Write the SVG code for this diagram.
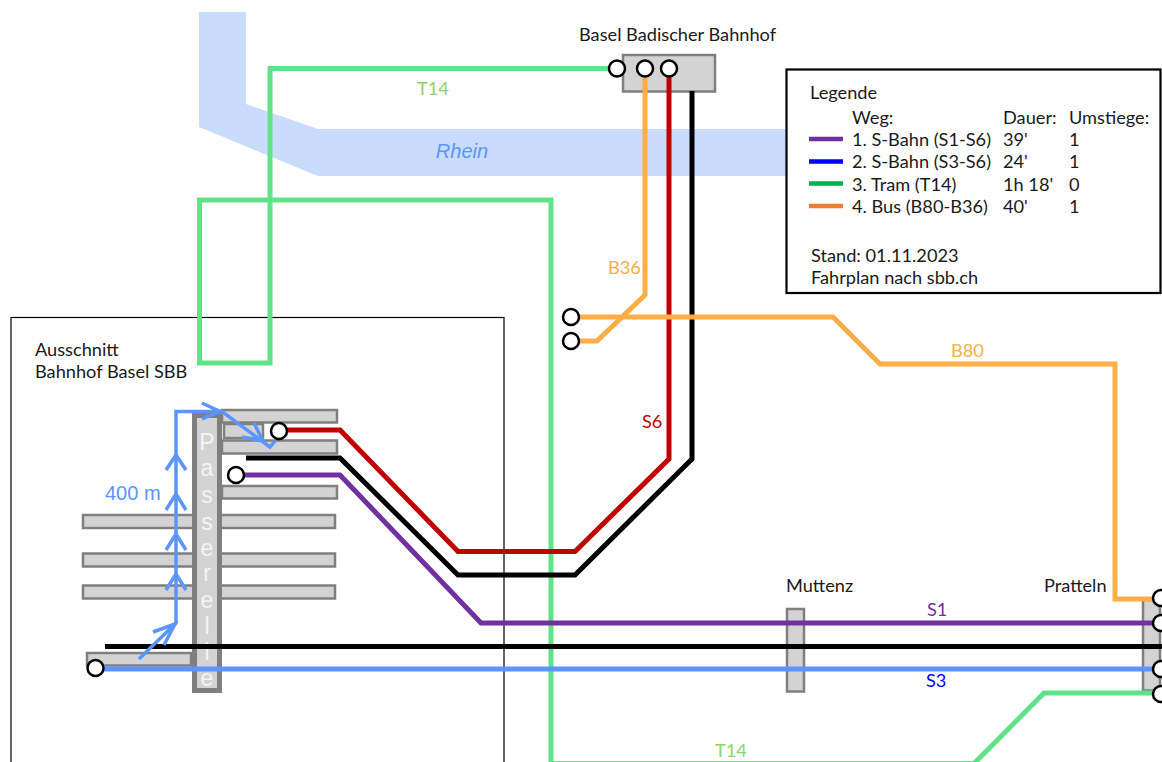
<svg xmlns="http://www.w3.org/2000/svg" width="1162" height="762" viewBox="0 0 1162 762">
<style>
text{font-family:Lato,"Liberation Sans",sans-serif;font-size:18.2px;fill:#1a1a1a}
text.b{font-family:"Liberation Sans",Arial,sans-serif;font-size:20px;fill:#5b95ff}
text.c{font-family:"Liberation Sans",Arial,sans-serif;font-size:23px;fill:#f4f4f4;text-anchor:middle}
.p{fill:#d3d3d3;stroke:#7f7f7f;stroke-width:2.5}
.l{fill:none;stroke-width:5}
.w{fill:none;stroke:#5b95ff;stroke-width:3.5}
.s{fill:#fff;stroke:#000;stroke-width:2.5}
.pur{stroke:#7030a0}.blu{stroke:#5b95ff}.grn{stroke:#60e388}.org{stroke:#ffad47}.red{stroke:#c00000}.blk{stroke:#000}
</style>
<rect width="1162" height="762" fill="#fff"/>
<g id="rhein"><polygon points="199,12 246,12 246,104 318,129 786,129 786,176 318,176 199,127" fill="#c9dcfb"/><text class="b" x="462" y="158" text-anchor="middle" font-style="italic">Rhein</text></g>
<g id="ausschnitt"><rect x="11" y="317.500" width="493" height="460" fill="none" stroke="#000" stroke-width="1.200"/><text x="35" y="356">Ausschnitt</text><text x="35" y="378">Bahnhof Basel SBB</text></g>
<g id="platforms">
<rect class="p" x="83" y="515" width="252" height="13"/><rect class="p" x="83" y="553.500" width="252" height="13"/><rect class="p" x="83" y="585.500" width="252" height="13"/>
<rect class="p" x="87" y="653" width="104" height="12.500"/>
<rect class="p" x="222" y="410" width="115" height="12.500"/><rect class="p" x="224" y="424" width="39" height="14"/><rect class="p" x="222" y="440.500" width="115" height="13"/><rect class="p" x="222" y="486" width="115" height="12.500"/>
</g>
<g id="passerelle"><rect x="194.500" y="415.500" width="25" height="275" fill="#d3d3d3" stroke="#7f7f7f" stroke-width="5"/>
<text class="c" x="207" y="450">P</text><text class="c" x="207" y="476">a</text><text class="c" x="207" y="503">s</text><text class="c" x="207" y="530">s</text><text class="c" x="207" y="556">e</text><text class="c" x="207" y="581">r</text><text class="c" x="207" y="608">e</text><text class="c" x="207" y="634">l</text><text class="c" x="207" y="660">l</text><text class="c" x="207" y="686">e</text>
</g>
<g id="stn-muttenz"><rect class="p" x="787" y="609" width="17" height="82.500"/><text x="786" y="592">Muttenz</text></g>
<g id="stn-pratteln"><rect class="p" x="1143" y="600" width="17" height="90.500"/><text x="1044" y="592">Pratteln</text></g>
<g id="stn-badischer"><rect class="p" x="623" y="55" width="92" height="36.500"/><text x="579" y="41">Basel Badischer Bahnhof</text></g>
<g id="connectors">
<path class="l grn" d="M617 68.500H270V363H199.500V200H551V763.500H974L1044 693H1157"/>
<path class="l org" d="M645 68V295L597 341H571"/>
<path class="l red" d="M669 68V459L575 551.500H458L340 430H279"/>
<path class="l blk" d="M692 91V459L575 575H458L340 458H246"/>
<path class="l org" d="M571 317H833L880 364H1115V599H1158"/>
<path class="l pur" d="M236 475H340L481 623H1158"/>
<path class="l blk" d="M105 646.500H1162"/>
<path class="l blu" d="M95 669H1158"/>
</g>
<g id="walk">
<path class="w" d="M139 659L176 623V411.500H222L270 447L275 441"/>
<path class="w" d="M153 632L175 624L164 645M166 470L176 455L186 470M166 510L176 494L186 510M166 550L176 534L186 550M166 590L176 574L186 590M202 403L220 411.500L202 419M242 437L263 441L254 423"/>
<text class="b" x="105" y="500">400 m</text>
</g>
<g id="stops">
<circle class="s" cx="617" cy="68.500" r="8"/><circle class="s" cx="645" cy="68.500" r="8"/><circle class="s" cx="669" cy="68.500" r="8"/>
<circle class="s" cx="571" cy="317" r="8"/><circle class="s" cx="571" cy="341" r="8"/>
<circle class="s" cx="279" cy="431" r="8"/><circle class="s" cx="236" cy="475" r="8"/><circle class="s" cx="95.500" cy="668" r="8"/>
<circle class="s" cx="1161" cy="598" r="8"/><circle class="s" cx="1161" cy="623" r="8"/><circle class="s" cx="1161" cy="669" r="8"/><circle class="s" cx="1161" cy="694" r="8"/>
</g>
<g id="labels">
<text x="417" y="95" style="fill:#8fd16f">T14</text>
<text x="715" y="757" style="fill:#8fd16f">T14</text>
<text x="608" y="274" style="fill:#ffad47">B36</text>
<text x="951" y="357" style="fill:#ffad47">B80</text>
<text x="642" y="428" style="fill:#c00000">S6</text>
<text x="927" y="616" style="fill:#7030a0">S1</text>
<text x="926" y="687" style="fill:#0000ff">S3</text>
</g>
<g id="legende">
<rect x="786.500" y="69.500" width="374" height="223.500" fill="#fff" stroke="#000" stroke-width="2.200"/>
<text x="810" y="99">Legende</text><text x="852" y="124">Weg:</text><text x="1003" y="124">Dauer:</text><text x="1069" y="124">Umstiege:</text>
<path d="M809 139H843" stroke="#7030a0" stroke-width="4.500"/><text x="852" y="146">1. S-Bahn (S1-S6)</text><text x="1003" y="146">39'</text><text x="1069" y="146">1</text>
<path d="M809 161.500H843" stroke="#0000ff" stroke-width="4.500"/><text x="852" y="168">2. S-Bahn (S3-S6)</text><text x="1003" y="168">24'</text><text x="1069" y="168">1</text>
<path d="M809 183.500H843" stroke="#00b050" stroke-width="4.500"/><text x="852" y="190.500">3. Tram (T14)</text><text x="1003" y="190.500">1h 18'</text><text x="1069" y="190.500">0</text>
<path d="M809 206H843" stroke="#ed7d31" stroke-width="4.500"/><text x="852" y="212.500">4. Bus (B80-B36)</text><text x="1003" y="212.500">40'</text><text x="1069" y="212.500">1</text>
<text x="811" y="262">Stand: 01.11.2023</text><text x="811" y="284">Fahrplan nach sbb.ch</text>
</g>
</svg>
